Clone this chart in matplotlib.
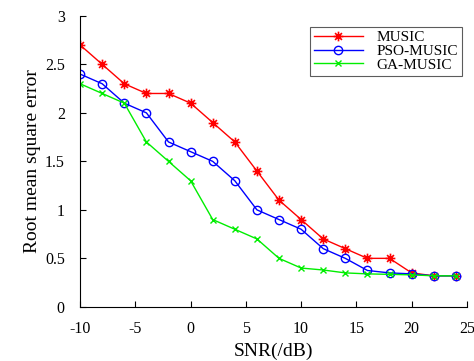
import matplotlib
matplotlib.use("Agg")
import matplotlib.pyplot as plt
from matplotlib.path import Path

snr = [-10, -8, -6, -4, -2, 0, 2, 4, 6, 8, 10, 12, 14, 16, 18, 20, 22, 24]
music = [2.7, 2.5, 2.3, 2.2, 2.2, 2.1, 1.9, 1.7, 1.4, 1.1, 0.9, 0.7, 0.6, 0.5, 0.5, 0.35, 0.32, 0.32]
pso_music = [2.4, 2.3, 2.1, 2.0, 1.7, 1.6, 1.5, 1.3, 1.0, 0.9, 0.8, 0.6, 0.5, 0.375, 0.35, 0.34, 0.32, 0.32]
ga_music = [2.3, 2.2, 2.1, 1.7, 1.5, 1.3, 0.9, 0.8, 0.7, 0.5, 0.4, 0.38, 0.35, 0.34, 0.335, 0.33, 0.32, 0.32]
xticks = [-10, -5, 0, 5, 10, 15, 20, 25]
yticks = [0, 0.5, 1, 1.5, 2, 2.5, 3]
ytick_labels = ['0', '0.5', '1', '1.5', '2', '2.5', '3']

plt.rcParams['font.family'] = ['Liberation Serif', 'DejaVu Serif']

# MATLAB-style asterisk marker (+ and x combined)
d = 0.7071
asterisk = Path([(-1, 0), (1, 0), (0, -1), (0, 1), (-d, -d), (d, d), (-d, d), (d, -d)],
                [Path.MOVETO, Path.LINETO] * 4)

fig = plt.figure(figsize=(4.74, 3.61), dpi=100)
ax = fig.add_axes([0.169, 0.150, 0.816, 0.806])

ax.plot(snr, music, color='#ff0000', marker=asterisk, markersize=7, markeredgewidth=1.2,
        linewidth=1, label='MUSIC')
ax.plot(snr, pso_music, color='#0000ff', marker='o', markersize=6, markerfacecolor='none',
        markeredgewidth=1, linewidth=1, label='PSO-MUSIC')
ax.plot(snr, ga_music, color='#00ee00', marker='x', markersize=5, markeredgewidth=1,
        linewidth=1, label='GA-MUSIC')

ax.set_xlim(-10, 25)
ax.set_ylim(0, 3)
ax.set_xticks(xticks)
ax.set_xticklabels([str(t) for t in xticks])
ax.set_yticks(yticks)
ax.set_yticklabels(ytick_labels)
ax.tick_params(direction='in', labelsize=11.5, length=4)
ax.tick_params(axis='x', pad=10)
ax.tick_params(axis='y', pad=11)
ax.spines['top'].set_visible(False)
ax.spines['right'].set_visible(False)
ax.set_xlabel('SNR(/dB)', fontsize=14, labelpad=4)
ax.set_ylabel('Root mean square error', fontsize=14, labelpad=3)

leg = ax.legend(loc='upper right', bbox_to_anchor=(0.987, 0.962), fontsize=11, frameon=True,
                fancybox=False, edgecolor='#333333', handlelength=3.2, labelspacing=0.0,
                borderpad=0.25, handletextpad=0.9, borderaxespad=0.0)
leg.get_frame().set_linewidth(0.8)

fig.savefig('out.png', dpi=100)
